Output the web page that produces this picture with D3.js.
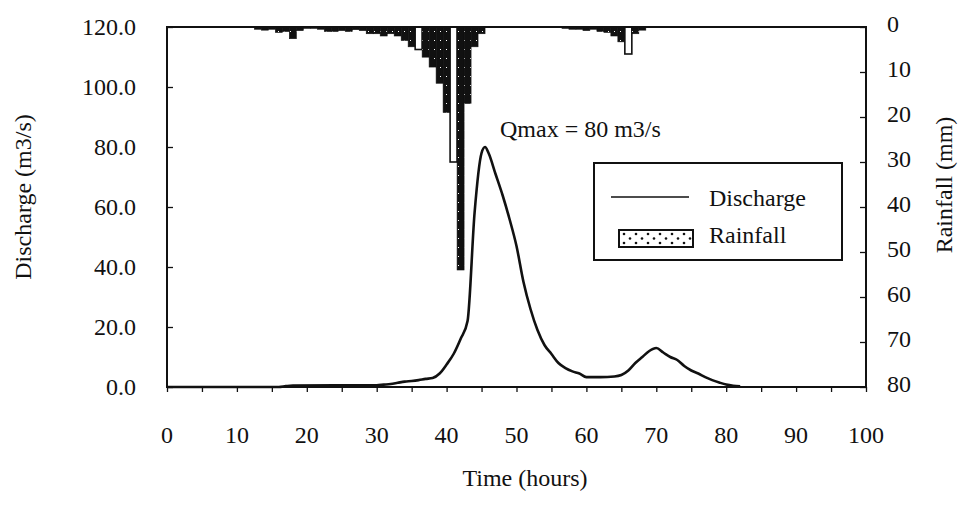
<!DOCTYPE html>
<html>
<head>
<meta charset="utf-8">
<script src="https://cdn.jsdelivr.net/npm/d3@7"></script>
<style>
  body { margin: 0; background: #fff; }
  svg text { font-family: "Liberation Serif", "Times New Roman", Times, "DejaVu Serif", serif !important; }
</style>
</head>
<body>
<div id="chart"></div>
<script>
// Discharge hydrograph (hours, m3/s)
const flowHours = [0, 16, 17, 18, 30, 31, 32, 33, 34, 35, 36, 37, 38, 39, 40, 41, 42, 43, 44, 45, 45.5, 46, 47, 48, 49, 50,
  51, 52, 53, 54, 55, 56, 57, 58, 59, 60, 62, 64, 65, 66, 67, 68, 69, 70, 71, 72, 73, 74, 75, 76, 77, 78, 79, 80, 81, 82];
const flowValues = [0, 0, 0.3, 0.5, 0.6, 0.8, 1.0, 1.4, 1.8, 2.0, 2.3, 2.7, 3.0, 4.5, 7.5, 11, 16, 22, 58, 78, 80, 78, 71, 64, 56, 47,
  35, 26, 19, 14, 11, 8, 6.3, 5.2, 4.5, 3.3, 3.3, 3.5, 4.0, 5.5, 8.0, 10, 12, 13, 11.5, 10, 9, 7, 5.5, 4.5, 3.3, 2.3, 1.5, 0.8, 0.4, 0.2];

// Hourly rainfall (mm)
const rainHours = [13, 14, 15, 16, 17, 18, 19, 20, 21, 22, 23, 24, 25, 26, 27, 28, 29, 30, 31, 32, 33, 34, 35, 36, 37, 38, 39, 40,
  41, 42, 43, 44, 45, 57, 58, 59, 60, 61, 62, 63, 64, 65, 66, 67, 68];
const rainValues = [0.5, 0.7, 0.5, 1.2, 1.0, 2.6, 0.8, 0.3, 0.3, 0.5, 1.0, 1.0, 0.8, 1.0, 0.6, 0.8, 1.5, 1.5, 2.0, 1.5, 2.0, 3.0, 4.4, 5.0, 6.7, 8.9, 12.5, 19,
  30, 54, 17, 4.4, 1.5, 0.3, 0.5, 0.5, 0.8, 0.5, 1.0, 1.2, 2.0, 3.3, 6.0, 1.5, 0.7];
const rainOpenHours = [36, 41, 66];

const xTicks = [0, 10, 20, 30, 40, 50, 60, 70, 80, 90, 100];
const flowTicks = [0, 20, 40, 60, 80, 100, 120];
const rainTicks = [0, 10, 20, 30, 40, 50, 60, 70, 80];

const width = 971, height = 508;
const margin = { top: 27, right: 105, bottom: 121, left: 167 };
const innerW = width - margin.left - margin.right;
const innerH = height - margin.top - margin.bottom;
const serif = "Liberation Serif, Times New Roman, Times, DejaVu Serif, serif";

const svg = d3.select("#chart").append("svg")
  .attr("width", width).attr("height", height)
  .attr("font-family", serif);
svg.append("rect").attr("width", width).attr("height", height).attr("fill", "#fff");

const defs = svg.append("defs");
// scanned, densely dotted bar fill
const dense = defs.append("pattern").attr("id", "dense").attr("patternUnits", "userSpaceOnUse")
  .attr("width", 6).attr("height", 9);
dense.append("rect").attr("width", 6).attr("height", 9).attr("fill", "#111");
dense.append("rect").attr("x", 3).attr("y", 4).attr("width", 1).attr("height", 1).attr("fill", "#fff");
// legend swatch: sparse dots
const sparse = defs.append("pattern").attr("id", "sparse").attr("patternUnits", "userSpaceOnUse")
  .attr("width", 12).attr("height", 9).attr("x", 620).attr("y", 231);
sparse.append("rect").attr("width", 12).attr("height", 9).attr("fill", "#fff");
sparse.append("circle").attr("cx", 4).attr("cy", 3).attr("r", 1.3).attr("fill", "#111");
sparse.append("circle").attr("cx", 10).attr("cy", 7.5).attr("r", 1.3).attr("fill", "#111");

const g = svg.append("g").attr("transform", `translate(${margin.left},${margin.top})`);

const x = d3.scaleLinear().domain([0, 100]).range([0, innerW]);
const yFlow = d3.scaleLinear().domain([0, 120]).range([innerH, 0]);
const yRain = d3.scaleLinear().domain([0, 80]).range([0, innerH]);

// rainfall bars hanging from the top
const rain = rainHours.map((h, i) => ({ h, v: rainValues[i], open: rainOpenHours.includes(h) }));
const bw = x(1) - x(0);
g.selectAll(".rain").data(rain).enter().append("rect")
  .attr("class", "rain")
  .attr("x", d => x(d.h) - bw / 2)
  .attr("y", yRain(0))
  .attr("width", bw)
  .attr("height", d => yRain(d.v) - yRain(0))
  .attr("fill", d => d.open ? "#fff" : "url(#dense)")
  .attr("stroke", "#111")
  .attr("stroke-width", d => d.open ? 1.6 : 0.6);

// discharge line
const flow = flowHours.map((h, i) => ({ h, v: flowValues[i] }));
g.append("path").datum(flow)
  .attr("fill", "none")
  .attr("stroke", "#111")
  .attr("stroke-width", 2.6)
  .attr("stroke-linejoin", "round")
  .attr("d", d3.line().x(d => x(d.h)).y(d => yFlow(d.v)).curve(d3.curveMonotoneX));

// frame
g.append("rect").attr("width", innerW).attr("height", innerH)
  .attr("fill", "none").attr("stroke", "#111").attr("stroke-width", 2);

// axes
const xAxis = g.append("g").attr("transform", `translate(0,${innerH})`)
  .call(d3.axisBottom(x).tickValues(d3.range(0, 101, 5)).tickSize(5).tickFormat(""));
xAxis.selectAll(".lbl").data(xTicks).enter().append("text")
  .attr("class", "lbl")
  .attr("x", d => x(d)).attr("y", 56).attr("text-anchor", "middle")
  .text(d => d);

const yAxisL = g.append("g")
  .call(d3.axisRight(yFlow).tickValues(flowTicks).tickSize(6).tickFormat(d3.format(".1f")));
yAxisL.selectAll("text").attr("x", -31).attr("text-anchor", "end").attr("dy", "0.32em");

const yAxisR = g.append("g").attr("transform", `translate(${innerW},0)`)
  .call(d3.axisLeft(yRain).tickValues(rainTicks).tickSize(6));
yAxisR.selectAll("text").attr("x", 21).attr("text-anchor", "start").attr("dy", "0.2em");

[xAxis, yAxisL, yAxisR].forEach(a => {
  a.attr("font-family", serif).attr("font-size", 24);
  a.select(".domain").remove();
  a.selectAll("line").attr("stroke", "#111").attr("stroke-width", 1.3);
  a.selectAll("text").attr("fill", "#111");
});

// titles
svg.append("text").attr("x", 525).attr("y", 486).attr("text-anchor", "middle")
  .attr("font-size", 24).attr("fill", "#111").text("Time (hours)");
svg.append("text").attr("transform", "translate(31,197) rotate(-90)").attr("text-anchor", "middle")
  .attr("font-size", 24).attr("fill", "#111").text("Discharge (m3/s)");
svg.append("text").attr("transform", "translate(952,185) rotate(-90)").attr("text-anchor", "middle")
  .attr("font-size", 24).attr("fill", "#111").text("Rainfall (mm)");

// annotation
svg.append("text").attr("x", 500).attr("y", 137)
  .attr("font-size", 24).attr("fill", "#111").text("Qmax = 80 m3/s");

// legend
const lg = svg.append("g");
lg.append("rect").attr("x", 594).attr("y", 163).attr("width", 248).attr("height", 97)
  .attr("fill", "#fff").attr("stroke", "#111").attr("stroke-width", 2);
lg.append("line").attr("x1", 611).attr("x2", 689).attr("y1", 197).attr("y2", 197)
  .attr("stroke", "#111").attr("stroke-width", 1.6);
lg.append("rect").attr("x", 619).attr("y", 230).attr("width", 74).attr("height", 17)
  .attr("fill", "url(#sparse)").attr("stroke", "#111").attr("stroke-width", 2);
lg.append("text").attr("x", 709).attr("y", 206).attr("font-size", 24).attr("fill", "#111").text("Discharge");
lg.append("text").attr("x", 709).attr("y", 243).attr("font-size", 24).attr("fill", "#111").text("Rainfall");
</script>
</body>
</html>
